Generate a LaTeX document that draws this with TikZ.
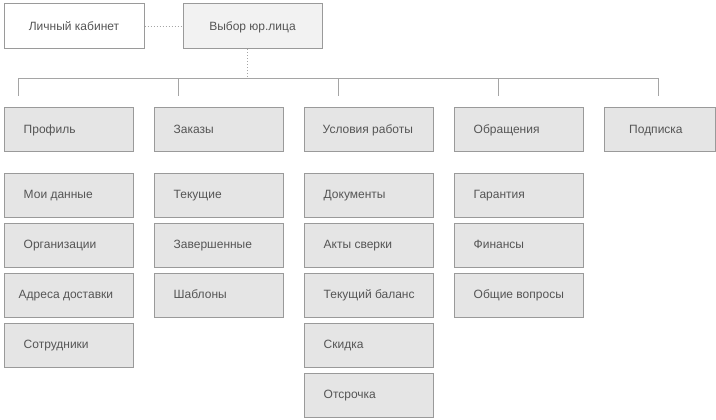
\documentclass[tikz,border=0pt]{standalone}
\usepackage{fontspec}
\setmainfont{Liberation Sans}
\definecolor{bord}{HTML}{9A9A9A}
\definecolor{boxfill}{HTML}{E5E5E5}
\definecolor{topfill}{HTML}{F2F2F2}
\definecolor{txt}{HTML}{555555}
\definecolor{wire}{HTML}{A5A5A5}
\tikzset{
  box/.style={draw=bord, fill=boxfill, line width=1pt, rectangle, inner sep=0pt, anchor=north west, minimum width=129pt, minimum height=44pt},
  lbl/.style={text=txt, font=\fontsize{12}{14}\selectfont, inner sep=0pt, anchor=base west},
  wireln/.style={draw=wire, line width=1pt},
  dotln/.style={draw=wire, line width=1pt, dotted}
}
\newcommand\bx[5]{%
  \node[box] (#1) at (#2) {};
  \node[lbl] (#1t) at ([xshift=#3, yshift=-3.6pt]#1.west) {#4};
}
\begin{document}
\begin{tikzpicture}[x=1pt,y=-1pt]
\path[use as bounding box, fill=white] (0,0) rectangle (716,420);
% top
\node[box, fill=white, minimum width=140pt, minimum height=45pt] (lk) at (3.5,3.5) {};
\node[lbl, anchor=base] (lkt) at ([yshift=-3.6pt]lk.center) {Личный кабинет};
\node[box, fill=topfill, minimum width=139pt, minimum height=45pt] (vyb) at (182.5,3.5) {};
\node[lbl, anchor=base] (vybt) at ([yshift=-3.6pt]vyb.center) {Выбор юр.лица};
\draw[dotln] (lk.east) -- (vyb.west);
\coordinate (bj) at (247,79);
\draw[dotln] (vyb.south -| bj) -- (bj);
% bus
\coordinate (b1) at (18.5,79);
\coordinate (b2) at (178.5,79);
\coordinate (b3) at (338.5,79);
\coordinate (b4) at (498.5,79);
\coordinate (b5) at (658.5,79);
\coordinate (d1) at (18.5,96);
\coordinate (d2) at (178.5,96);
\coordinate (d3) at (338.5,96);
\coordinate (d4) at (498.5,96);
\coordinate (d5) at (658.5,96);
\draw[wireln] (d1) -- (b1) -- (b5) -- (d5);
\draw[wireln] (b2) -- (d2);
\draw[wireln] (b3) -- (d3);
\draw[wireln] (b4) -- (d4);
% row 1
\bx{p}{3.5,107.5}{20pt}{Профиль}{}
\bx{z}{153.5,107.5}{20pt}{Заказы}{}
\bx{u}{303.5,107.5}{19pt}{Условия работы}{}
\bx{o}{453.5,107.5}{20pt}{Обращения}{}
\node[box, minimum width=111pt] (pd) at (603.5,107.5) {};
\node[lbl] (pdt) at ([xshift=25.5pt, yshift=-3.6pt]pd.west) {Подписка};
% column 1
\bx{p1}{3.5,172.5}{20pt}{Мои данные}{}
\bx{p2}{3.5,222.5}{20pt}{Организации}{}
\bx{p3}{3.5,272.5}{15pt}{Адреса доставки}{}
\bx{p4}{3.5,322.5}{20pt}{Сотрудники}{}
% column 2
\bx{z1}{153.5,172.5}{20pt}{Текущие}{}
\bx{z2}{153.5,222.5}{20pt}{Завершенные}{}
\bx{z3}{153.5,272.5}{20pt}{Шаблоны}{}
% column 3
\bx{u1}{303.5,172.5}{20pt}{Документы}{}
\bx{u2}{303.5,222.5}{20pt}{Акты сверки}{}
\bx{u3}{303.5,272.5}{20pt}{Текущий баланс}{}
\bx{u4}{303.5,322.5}{20pt}{Скидка}{}
\bx{u5}{303.5,372.5}{20pt}{Отсрочка}{}
% column 4
\bx{o1}{453.5,172.5}{20pt}{Гарантия}{}
\bx{o2}{453.5,222.5}{20pt}{Финансы}{}
\bx{o3}{453.5,272.5}{20pt}{Общие вопросы}{}
\end{tikzpicture}
\end{document}
